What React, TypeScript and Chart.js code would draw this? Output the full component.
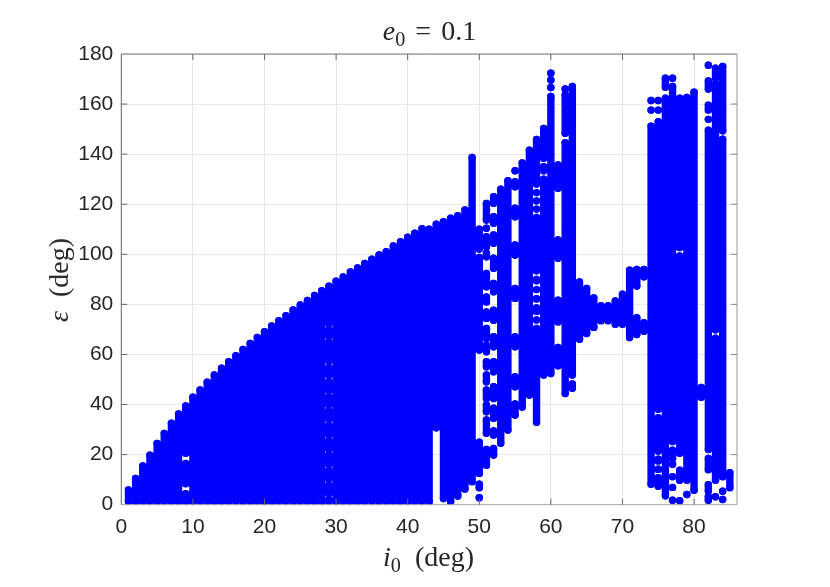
import React, { useEffect, useRef } from "react";
import { Chart, registerables } from "chart.js";

Chart.register(...registerables);

// Inclination columns, 1..85 degrees
const inclinations = [
  1, 2, 3, 4, 5, 6, 7, 8, 9, 10, 11, 12, 13, 14, 15, 16, 17, 18, 19, 20,
  21, 22, 23, 24, 25, 26, 27, 28, 29, 30, 31, 32, 33, 34, 35, 36, 37, 38, 39, 40,
  41, 42, 43, 44, 45, 46, 47, 48, 49, 50, 51, 52, 53, 54, 55, 56, 57, 58, 59, 60,
  61, 62, 63, 64, 65, 66, 67, 68, 69, 70, 71, 72, 73, 74, 75, 76, 77, 78, 79, 80,
  81, 82, 83, 84, 85,
];

// For each inclination: flat [from, to, from, to, ...] obliquity bands
const epsilonBands = [
  [1.2, 5.9], [1.2, 10.5], [1.2, 15.5], [1.2, 19.8], [1.2, 24.5], [1.2, 28.5], [1.2, 32.5], [1.2, 36.2],
  [1.2, 4.4, 8.4, 16.5, 20.5, 39.4],
  [1.2, 42.9], [1.2, 45.8], [1.2, 48.9], [1.2, 51.8], [1.2, 54.5], [1.2, 57.1], [1.2, 59.5], [1.2, 62],
  [1.2, 64.4], [1.2, 66.8], [1.2, 69.1], [1.2, 71.4], [1.2, 73.5], [1.2, 75.5], [1.2, 77.8], [1.2, 79.8],
  [1.2, 81.6], [1.2, 83.6], [1.2, 85.5],
  [1.2, 1.95, 4.45, 7.75, 10.25, 13.65, 16.15, 19.75, 22.25, 25.45, 27.95, 31.65, 34.15, 37.45, 39.95, 43.15,
    45.65, 49.15, 51.65, 54.75, 57.25, 64.85, 67.35, 69.85, 72.35, 87.3],
  [1.2, 89.3], [1.2, 91], [1.2, 93], [1.2, 94.6], [1.2, 96.4], [1.2, 98], [1.2, 99.7], [1.2, 101],
  [1.2, 103.3], [1.2, 105], [1.2, 106.8], [1.2, 108.4], [1.2, 110.2], [1.2, 110],
  [30.7, 112], [2.5, 113], [1.2, 114.4], [3.5, 115.4], [6.3, 117.7], [9.2, 138.7],
  [2.8, 2.8, 6.8, 8.2, 12.5, 25, 61.8, 98.7, 102.1, 110],
  [15.8, 22.1, 28.5, 33.8, 37.1, 39.8, 42.4, 45.8, 49.1, 51.8, 55.1, 57.1, 61.1, 63.7, 66.4, 70.4, 74.4, 77,
    81, 83, 87, 92.4, 99, 100.4, 103, 107, 110.4, 110.4, 113.7, 120.3],
  [19.8, 22.5, 27.8, 29.5, 34.5, 38.5, 42.4, 47.1, 53.1, 57.1, 63.1, 67.1, 73.7, 77.7, 85, 88.4, 94.4, 98.4,
    104.4, 107.7, 112.4, 115, 120.4, 123],
  [24.5, 126], [29.8, 129.4],
  [35.8, 40.2, 47.1, 51.1, 63.1, 67.1, 82.4, 86.4, 99.7, 103.7, 115, 118.4, 127, 129, 133.4, 133.4],
  [39, 136.5], [43.8, 141.6],
  [32.9, 70.4, 73.8, 73.8, 77.2, 78.6, 82.2, 82.3, 85.9, 85.9, 89.4, 90, 93.4, 114.7, 118.05, 118.05,
    121.35, 121.35, 124.65, 124.65, 128.05, 145.9],
  [51.8, 130, 133.4, 135, 138.4, 150.3],
  [52.4, 163, 166.6, 166.6, 169.6, 169.6, 172.3, 172.3],
  [55.5, 62.8, 73, 81.7, 98.4, 105.7, 126.4, 135.7],
  [44.4, 144.6, 148.3, 163.6, 166, 166],
  [46.5, 48.2, 51.8, 167],
  [66.1, 89], [68.4, 86.4], [70.8, 82.6], [73.5, 79.5], [73.5, 79.5], [72.1, 81.4], [72.1, 84.1], [66.8, 93.7],
  [68, 74.7, 87.3, 94], [69.3, 72.7, 91, 94],
  [8.2, 151.2, 157.6, 157.6, 161.4, 161.4],
  [7.4, 10.8, 14.1, 14.2, 17.5, 18.2, 21.4, 34.7, 38.1, 153, 157.6, 157.6, 161.4, 161.4],
  [3.6, 162.3, 166.7, 170.3],
  [1.8, 1.8, 6.9, 6.9, 11.2, 11.2, 16.2, 16.2, 18.5, 21.8, 25.2, 167, 170.3, 170.3],
  [1.6, 1.6, 9.8, 13.8, 20.5, 99.3, 102.7, 162.3],
  [4.1, 4.1, 9.8, 162.6],
  [5.8, 164.7],
  [42.9, 46.8],
  [1.8, 3.2, 5.5, 8, 14, 18.5, 22, 149.6, 153.9, 153.9, 157.6, 159.6, 166, 169.2, 175.5, 175.5],
  [3.2, 3.2, 9.8, 66.5, 69.9, 168, 170.3, 174.3],
  [2.1, 2.1, 5.4, 5.4, 11.2, 146, 149.3, 175],
  [6.8, 12.8],
];

const xTickValues = [0, 10, 20, 30, 40, 50, 60, 70, 80];
const yTickValues = [0, 20, 40, 60, 80, 100, 120, 140, 160, 180];

const bandPoints = inclinations.flatMap((inc, k) => {
  const out: { x: number; y: number }[] = [];
  const band = epsilonBands[k];
  for (let j = 0; j < band.length; j += 2) {
    out.push({ x: inc, y: band[j] });
    if (band[j + 1] !== band[j]) out.push({ x: inc, y: band[j + 1] });
    out.push({ x: inc, y: NaN });
  }
  return out;
});

const frame = {
  id: "frame",
  afterDatasetsDraw(chart: any) {
    const { ctx, chartArea: a, scales } = chart;
    const seg = (x1: number, y1: number, x2: number, y2: number, c: string) => {
      ctx.strokeStyle = c;
      ctx.beginPath();
      ctx.moveTo(x1, y1);
      ctx.lineTo(x2, y2);
      ctx.stroke();
    };
    ctx.save();
    ctx.lineWidth = 1;
    seg(a.left, a.top, a.right, a.top, "#777777");
    seg(a.right, a.top, a.right, a.bottom, "#999999");
    seg(a.left, a.bottom, a.right, a.bottom, "#aaaaaa");
    seg(a.left, a.top, a.left, a.bottom, "#666666");
    for (const v of xTickValues.slice(1)) {
      const x = scales.x.getPixelForValue(v);
      seg(x, a.bottom, x, a.bottom - 6, "#666666");
      seg(x, a.top, x, a.top + 6, "#666666");
    }
    for (const v of yTickValues.slice(1, -1)) {
      const y = scales.y.getPixelForValue(v);
      seg(a.left, y, a.left + 6, y, "#666666");
      seg(a.right, y, a.right - 6, y, "#888888");
    }
    ctx.restore();
  },
};

const serif = '"Liberation Serif", serif';
const labelBase: React.CSSProperties = {
  position: "absolute",
  fontFamily: serif,
  color: "#262626",
  whiteSpace: "nowrap",
  lineHeight: 1,
  transform: "translate(-50%, -50%)",
};
const subStyle: React.CSSProperties = { fontSize: "0.72em", verticalAlign: "-0.3em", lineHeight: 0 };

export default function App() {
  const ref = useRef<HTMLCanvasElement>(null);
  useEffect(() => {
    const tickFont = { family: '"Liberation Sans", sans-serif', size: 21 };
    const chart = new Chart(ref.current as HTMLCanvasElement, {
      type: "scatter",
      data: {
        datasets: [
          {
            data: bandPoints,
            showLine: true,
            spanGaps: false,
            borderColor: "#0000ff",
            borderWidth: 7.4,
            borderCapStyle: "round",
            backgroundColor: "#0000ff",
            pointRadius: 3.7,
            pointBorderWidth: 0,
            pointBackgroundColor: "#0000ff",
          } as any,
        ],
      },
      options: {
        responsive: false,
        animation: false,
        layout: { padding: { left: 0, top: 54, right: 93, bottom: 42.3 } },
        plugins: { legend: { display: false }, tooltip: { enabled: false } },
        scales: {
          x: {
            type: "linear",
            min: 0,
            max: 86,
            afterBuildTicks: (s: any) => {
              s.ticks = xTickValues.map((value) => ({ value }));
            },
            afterFit: (s: any) => {
              s.height = 40;
            },
            grid: { color: "#e8e8e8", lineWidth: 1, drawTicks: false },
            border: { display: false },
            ticks: { font: tickFont, color: "#262626", padding: 10, maxRotation: 0, autoSkip: false },
          },
          y: {
            type: "linear",
            min: 0,
            max: 180,
            afterBuildTicks: (s: any) => {
              s.ticks = yTickValues.map((value) => ({ value }));
            },
            afterFit: (s: any) => {
              s.width = 121.3;
            },
            grid: { color: "#e8e8e8", lineWidth: 1, drawTicks: false },
            border: { display: false },
            ticks: { font: tickFont, color: "#262626", padding: 8, autoSkip: false },
          },
        },
      },
      plugins: [frame],
    } as any);
    return () => chart.destroy();
  }, []);
  return (
    <div style={{ position: "absolute", left: 0, top: 0, width: 830, height: 587, background: "#fff" }}>
      <canvas ref={ref} width={830} height={587} style={{ display: "block" }} />
      <div style={{ ...labelBase, left: 429.5, top: 31, fontSize: 28, wordSpacing: 3 }}>
        <i>e</i>
        <sub style={subStyle}>0</sub> = 0.1
      </div>
      <div style={{ ...labelBase, left: 428.5, top: 557, fontSize: 28 }}>
        <i>i</i>
        <sub style={subStyle}>0</sub>&nbsp;&nbsp;(deg)
      </div>
      <div style={{ ...labelBase, left: 58.5, top: 280, fontSize: 28, transform: "translate(-50%, -50%) rotate(-90deg)" }}>
        <i>ε</i>&nbsp;&nbsp;(deg)
      </div>
    </div>
  );
}
